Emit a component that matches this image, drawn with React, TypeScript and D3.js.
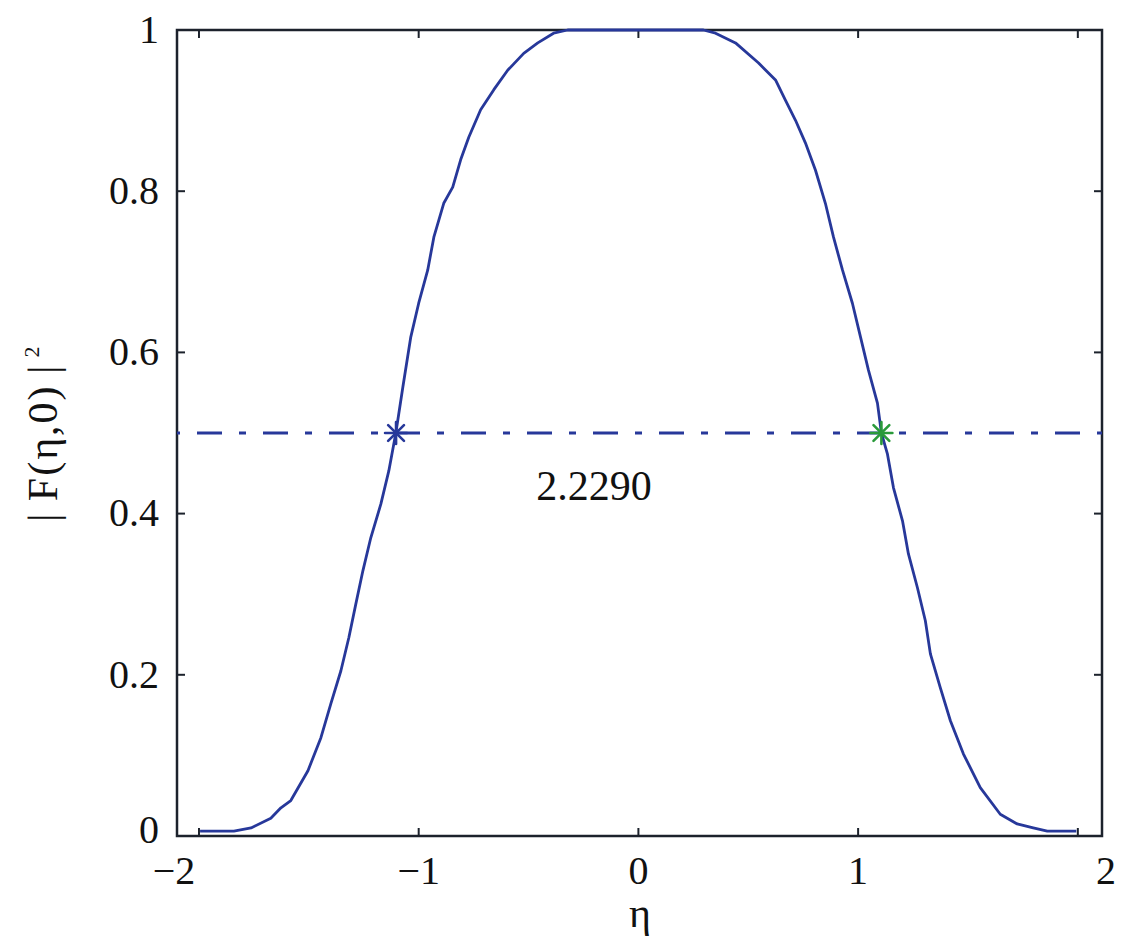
import React from "react";
import * as d3 from "d3";

// Curve |F(eta,0)|^2
const etaValues = [
  -1.995, -1.841, -1.763, -1.673, -1.627, -1.582, -1.504, -1.445, -1.4, -1.354,
  -1.318, -1.286, -1.254, -1.218, -1.172, -1.136, -1.104, -1.072, -1.036, -1.0,
  -0.959, -0.931, -0.886, -0.845, -0.809, -0.772, -0.718, -0.658, -0.595, -0.522,
  -0.458, -0.386, -0.322, 0.0, 0.296, 0.351, 0.442, 0.547, 0.624, 0.669,
  0.715, 0.76, 0.806, 0.851, 0.888, 0.929, 0.974, 1.011, 1.047, 1.088,
  1.106, 1.133, 1.161, 1.202, 1.229, 1.27, 1.306, 1.329, 1.374, 1.42,
  1.479, 1.556, 1.647, 1.724, 1.797, 1.861, 1.993,
];
const fValues = [
  0.006, 0.006, 0.01, 0.022, 0.035, 0.044, 0.081, 0.122, 0.164, 0.205,
  0.246, 0.288, 0.329, 0.37, 0.412, 0.453, 0.5, 0.557, 0.619, 0.661,
  0.702, 0.743, 0.785, 0.805, 0.839, 0.867, 0.901, 0.926, 0.95, 0.971,
  0.984, 0.996, 1.0, 1.0, 1.0, 0.996, 0.984, 0.959, 0.938, 0.913,
  0.888, 0.86, 0.826, 0.785, 0.743, 0.702, 0.661, 0.619, 0.578, 0.537,
  0.5, 0.4745, 0.432, 0.391, 0.35, 0.308, 0.267, 0.226, 0.184, 0.143,
  0.102, 0.06, 0.027, 0.015, 0.01, 0.006, 0.006,
];

const halfLevel = 0.5;
const markerEtas = [-1.103, 1.106];
const markerColors = ["#27389a", "#2a9a3a"];
const widthLabel = "2.2290";

const xTicks = [-2, -1, 0, 1, 2];
const xTickLabels = ["\u22122", "\u22121", "0", "1", "2"];
const yTicks = [0, 0.2, 0.4, 0.6, 0.8, 1];
const yTickLabels = ["0", "0.2", "0.4", "0.6", "0.8", "1"];

const W = 1131;
const H = 949;
const left = 177;
const right = 1102;
const top = 30;
const bottom = 836;
const lineColor = "#27389a";
const axisColor = "#1c222c";
const font = '"Liberation Serif", "Times New Roman", Times, serif';
const textStyle = { fontFamily: font };

export default function App() {
  const x = d3.scaleLinear().domain([-2.1, 2.11]).range([left, right]);
  const y = d3.scaleLinear().domain([0, 1]).range([bottom, top]);

  const pts: [number, number][] = etaValues.map((e, i) => [x(e), y(fValues[i])]);
  const path = d3.line()(pts) || "";

  const tickLen = 8;
  const xLabelPos = (v: number) => (v === -2 ? left - 3 : v === 2 ? right + 4 : x(v));

  const star = (cx: number, cy: number, color: string, key: number) => {
    const r = 11;
    const d = r * 0.72;
    return (
      <g key={key} stroke={color} strokeWidth={2.6} strokeLinecap="round">
        <line x1={cx - r} y1={cy} x2={cx + r} y2={cy} />
        <line x1={cx} y1={cy - r} x2={cx} y2={cy + r} />
        <line x1={cx - d} y1={cy - d} x2={cx + d} y2={cy + d} />
        <line x1={cx - d} y1={cy + d} x2={cx + d} y2={cy - d} />
      </g>
    );
  };

  return (
    <svg
      width={W}
      height={H}
      style={{ position: "absolute", left: 0, top: 0, background: "#fff" }}
    >
      <rect x={0} y={0} width={W} height={H} fill="#fff" />
      <g stroke={axisColor} strokeWidth={2}>
        {xTicks.map((t) => (
          <g key={"xt" + t}>
            <line x1={x(t)} x2={x(t)} y1={bottom} y2={bottom - tickLen} />
            <line x1={x(t)} x2={x(t)} y1={top} y2={top + tickLen} />
          </g>
        ))}
        {yTicks.map((t) => (
          <g key={"yt" + t}>
            <line x1={left} x2={left + tickLen} y1={y(t)} y2={y(t)} />
            <line x1={right} x2={right - tickLen} y1={y(t)} y2={y(t)} />
          </g>
        ))}
      </g>
      <rect
        x={left}
        y={top}
        width={right - left}
        height={bottom - top}
        fill="none"
        stroke={axisColor}
        strokeWidth={2.5}
      />
      <line
        x1={left}
        x2={right}
        y1={y(halfLevel)}
        y2={y(halfLevel)}
        stroke={lineColor}
        strokeWidth={3}
        strokeDasharray="25 17 7 17"
        strokeDashoffset={46}
      />
      <path d={path} fill="none" stroke={lineColor} strokeWidth={2.8} strokeLinejoin="round" />
      {markerEtas.map((e, i) => star(x(e), y(halfLevel), markerColors[i], i))}
      <text x={594} y={500} fontSize={42} textAnchor="middle" fill="#111" style={textStyle}>
        {widthLabel}
      </text>
      {xTicks.map((t, i) => (
        <text
          key={"xl" + t}
          x={xLabelPos(t)}
          y={884}
          fontSize={40}
          textAnchor="middle"
          fill="#111"
          style={textStyle}
        >
          {xTickLabels[i]}
        </text>
      ))}
      {yTicks.map((t, i) => (
        <text
          key={"yl" + t}
          x={159}
          y={y(t)}
          dy={t === 0 ? "0.18em" : "0.32em"}
          fontSize={40}
          textAnchor="end"
          fill="#111"
          style={textStyle}
        >
          {yTickLabels[i]}
        </text>
      ))}
      <text x={640} y={927} fontSize={42} textAnchor="middle" fill="#111" style={textStyle}>
        η
      </text>
      <text
        transform="translate(57,522) rotate(-90)"
        fontSize={42}
        textAnchor="start"
        fill="#111"
        style={{ ...textStyle, letterSpacing: "2px" }}
      >
        {"|\u2009F(η,0)\u2009|"}
        <tspan fontSize={22} dx={6} dy={-18}>
          2
        </tspan>
      </text>
    </svg>
  );
}
